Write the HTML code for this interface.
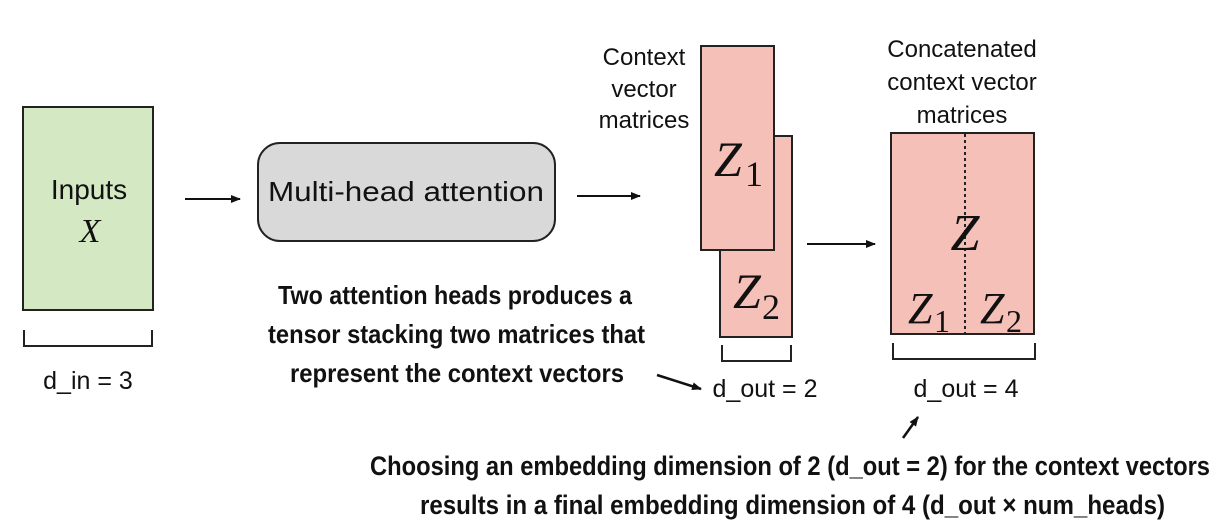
<!DOCTYPE html>
<html><head><meta charset="utf-8"><style>
html,body{margin:0;padding:0;background:#fff;}
svg{display:block}
.s{font-family:"Liberation Sans",sans-serif;fill:#111}
.b{font-family:"Liberation Sans Narrow","Liberation Sans",sans-serif;font-weight:bold;fill:#111}
.m{font-family:"Liberation Serif",serif;font-style:italic;fill:#111}
.n{font-family:"Liberation Serif",serif;fill:#111}
</style></head><body>
<svg width="1217" height="529" viewBox="0 0 1217 529" xmlns="http://www.w3.org/2000/svg">
<defs><marker id="a" markerWidth="10" markerHeight="8" refX="9" refY="4" orient="auto" markerUnits="userSpaceOnUse"><path d="M0,0 L10,4 L0,8 z" fill="#111"/></marker></defs>
<rect x="0" y="0" width="1217" height="529" fill="#fff"/>
<!-- Inputs -->
<rect x="23" y="107" width="130" height="203" fill="#d5e8c4" stroke="#222" stroke-width="2"/>
<text class="s" x="89" y="199" font-size="28" text-anchor="middle">Inputs</text>
<text class="m" x="90" y="242" font-size="34" text-anchor="middle">X</text>
<path d="M24,330 V346 H152 V330" fill="none" stroke="#222" stroke-width="2"/>
<text class="s" x="88" y="389" font-size="25" text-anchor="middle">d_in = 3</text>
<line x1="185" y1="199" x2="240" y2="199" stroke="#111" stroke-width="2" marker-end="url(#a)"/>
<!-- MHA -->
<rect x="258" y="143" width="297" height="98" rx="22" fill="#d9d9d9" stroke="#222" stroke-width="2"/>
<text class="s" x="406" y="201" font-size="28" text-anchor="middle" textLength="276" lengthAdjust="spacingAndGlyphs">Multi-head attention</text>
<line x1="577" y1="196" x2="640" y2="196" stroke="#111" stroke-width="2" marker-end="url(#a)"/>
<!-- context labels -->
<text class="s" x="644" y="65" font-size="24" text-anchor="middle">Context</text>
<text class="s" x="644" y="97" font-size="24" text-anchor="middle">vector</text>
<text class="s" x="644" y="128" font-size="24" text-anchor="middle">matrices</text>
<!-- Z2 back, Z1 front -->
<rect x="720" y="136" width="72" height="201" fill="#f4c0b8" stroke="#222" stroke-width="2"/>
<rect x="701" y="46" width="73" height="204" fill="#f4c0b8" stroke="#222" stroke-width="2"/>
<text class="m" x="714" y="176" font-size="50">Z</text><text class="n" x="745" y="186" font-size="36">1</text>
<text class="m" x="733" y="308" font-size="50">Z</text><text class="n" x="762" y="319" font-size="36">2</text>
<path d="M722,345 V361 H791 V345" fill="none" stroke="#222" stroke-width="2"/>
<text class="s" x="765" y="397" font-size="25" text-anchor="middle">d_out = 2</text>
<line x1="657" y1="375" x2="701" y2="389" stroke="#111" stroke-width="2.5" marker-end="url(#a)"/>
<line x1="807" y1="244" x2="875" y2="244" stroke="#111" stroke-width="2" marker-end="url(#a)"/>
<!-- concat -->
<text class="s" x="962" y="57" font-size="24" text-anchor="middle">Concatenated</text>
<text class="s" x="962" y="90" font-size="24" text-anchor="middle">context vector</text>
<text class="s" x="962" y="123" font-size="24" text-anchor="middle">matrices</text>
<rect x="891" y="133" width="143" height="201" fill="#f4c0b8" stroke="#222" stroke-width="2"/>
<line x1="965" y1="134" x2="965" y2="333" stroke="#222" stroke-width="2" stroke-dasharray="3,3"/>
<text class="m" x="965" y="250" font-size="52" text-anchor="middle">Z</text>
<text class="m" x="908" y="323" font-size="44">Z</text><text class="n" x="934" y="332" font-size="32">1</text>
<text class="m" x="980" y="323" font-size="44">Z</text><text class="n" x="1006" y="332" font-size="32">2</text>
<path d="M893,343 V359 H1035 V343" fill="none" stroke="#222" stroke-width="2"/>
<text class="s" x="966" y="397" font-size="25" text-anchor="middle">d_out = 4</text>
<line x1="903" y1="438" x2="918" y2="417" stroke="#111" stroke-width="2.5" marker-end="url(#a)"/>
<!-- bold notes -->
<text class="b" x="278" y="304" font-size="26" textLength="354" lengthAdjust="spacingAndGlyphs">Two attention heads produces a</text>
<text class="b" x="268" y="343" font-size="26" textLength="377" lengthAdjust="spacingAndGlyphs">tensor stacking two matrices that</text>
<text class="b" x="290" y="382" font-size="26" textLength="334" lengthAdjust="spacingAndGlyphs">represent the context vectors</text>
<text class="b" x="370" y="475" font-size="27" textLength="840" lengthAdjust="spacingAndGlyphs">Choosing an embedding dimension of 2 (d_out = 2) for the context vectors</text>
<text class="b" x="420" y="514" font-size="27" textLength="745" lengthAdjust="spacingAndGlyphs">results in a final embedding dimension of 4 (d_out × num_heads)</text>
</svg>
</body></html>
